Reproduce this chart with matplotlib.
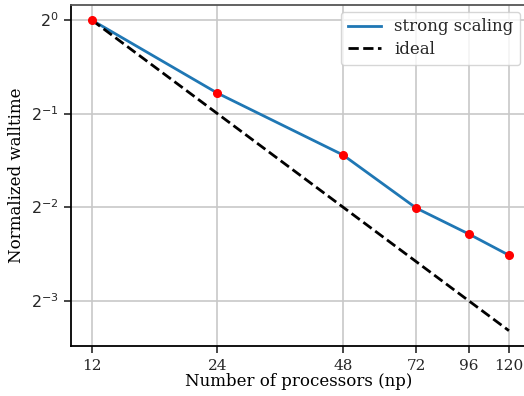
import matplotlib
matplotlib.use('Agg')
import matplotlib.pyplot as plt
from matplotlib.ticker import FixedLocator, NullLocator

# Data
nprocs = [12, 24, 48, 72, 96, 120]
walltime = [1.0, 0.582, 0.368, 0.248, 0.205, 0.175]
ideal = [12.0 / n for n in nprocs]
ytick_vals = [1, 0.5, 0.25, 0.125]
ytick_labels = [r'$2^{0}$', r'$2^{-1}$', r'$2^{-2}$', r'$2^{-3}$']

plt.rcParams['font.family'] = 'DejaVu Serif'
plt.rcParams['text.color'] = '#262626'
plt.rcParams['xtick.color'] = '#262626'
plt.rcParams['ytick.color'] = '#262626'

fig = plt.figure(figsize=(5.24, 3.96), dpi=100)
ax = fig.add_axes([0.1355, 0.126, 0.87, 0.861])

ax.plot(nprocs, walltime, color='#1f77b4', lw=2, label='strong scaling', zorder=3)
ax.plot(nprocs, walltime, 'o', color='red', ms=5.5, zorder=4)
ax.plot(nprocs, ideal, '--', color='black', lw=2, label='ideal', zorder=3)

ax.set_xscale('log', base=2)
ax.set_yscale('log', base=2)
ax.set_xlim(10.7, 132.5)
ax.set_ylim(0.0892, 1.117)

ax.xaxis.set_major_locator(FixedLocator(nprocs))
ax.set_xticklabels([str(n) for n in nprocs])
ax.xaxis.set_minor_locator(NullLocator())
ax.yaxis.set_major_locator(FixedLocator(ytick_vals))
ax.set_yticklabels(ytick_labels)
ax.yaxis.set_minor_locator(NullLocator())

ax.tick_params(labelsize=11, length=5, width=1.2, pad=4)
ax.tick_params(axis='y', labelsize=11.5)
ax.grid(True, color='#c8c8c8', lw=1.2)
ax.set_axisbelow(True)

for s in ['left', 'bottom']:
    ax.spines[s].set_color('black')
    ax.spines[s].set_linewidth(1.3)
ax.spines['top'].set_color('#555555')
ax.spines['top'].set_linewidth(1.3)
ax.spines['right'].set_visible(False)

ax.set_xlabel('Number of processors (np)', fontsize=12, labelpad=0)
ax.set_ylabel('Normalized walltime', fontsize=12, labelpad=4)
ax.legend(loc='upper right', fontsize=12, framealpha=0.8, borderaxespad=0.4,
          labelspacing=0.35)

fig.savefig('out.png', dpi=100)
